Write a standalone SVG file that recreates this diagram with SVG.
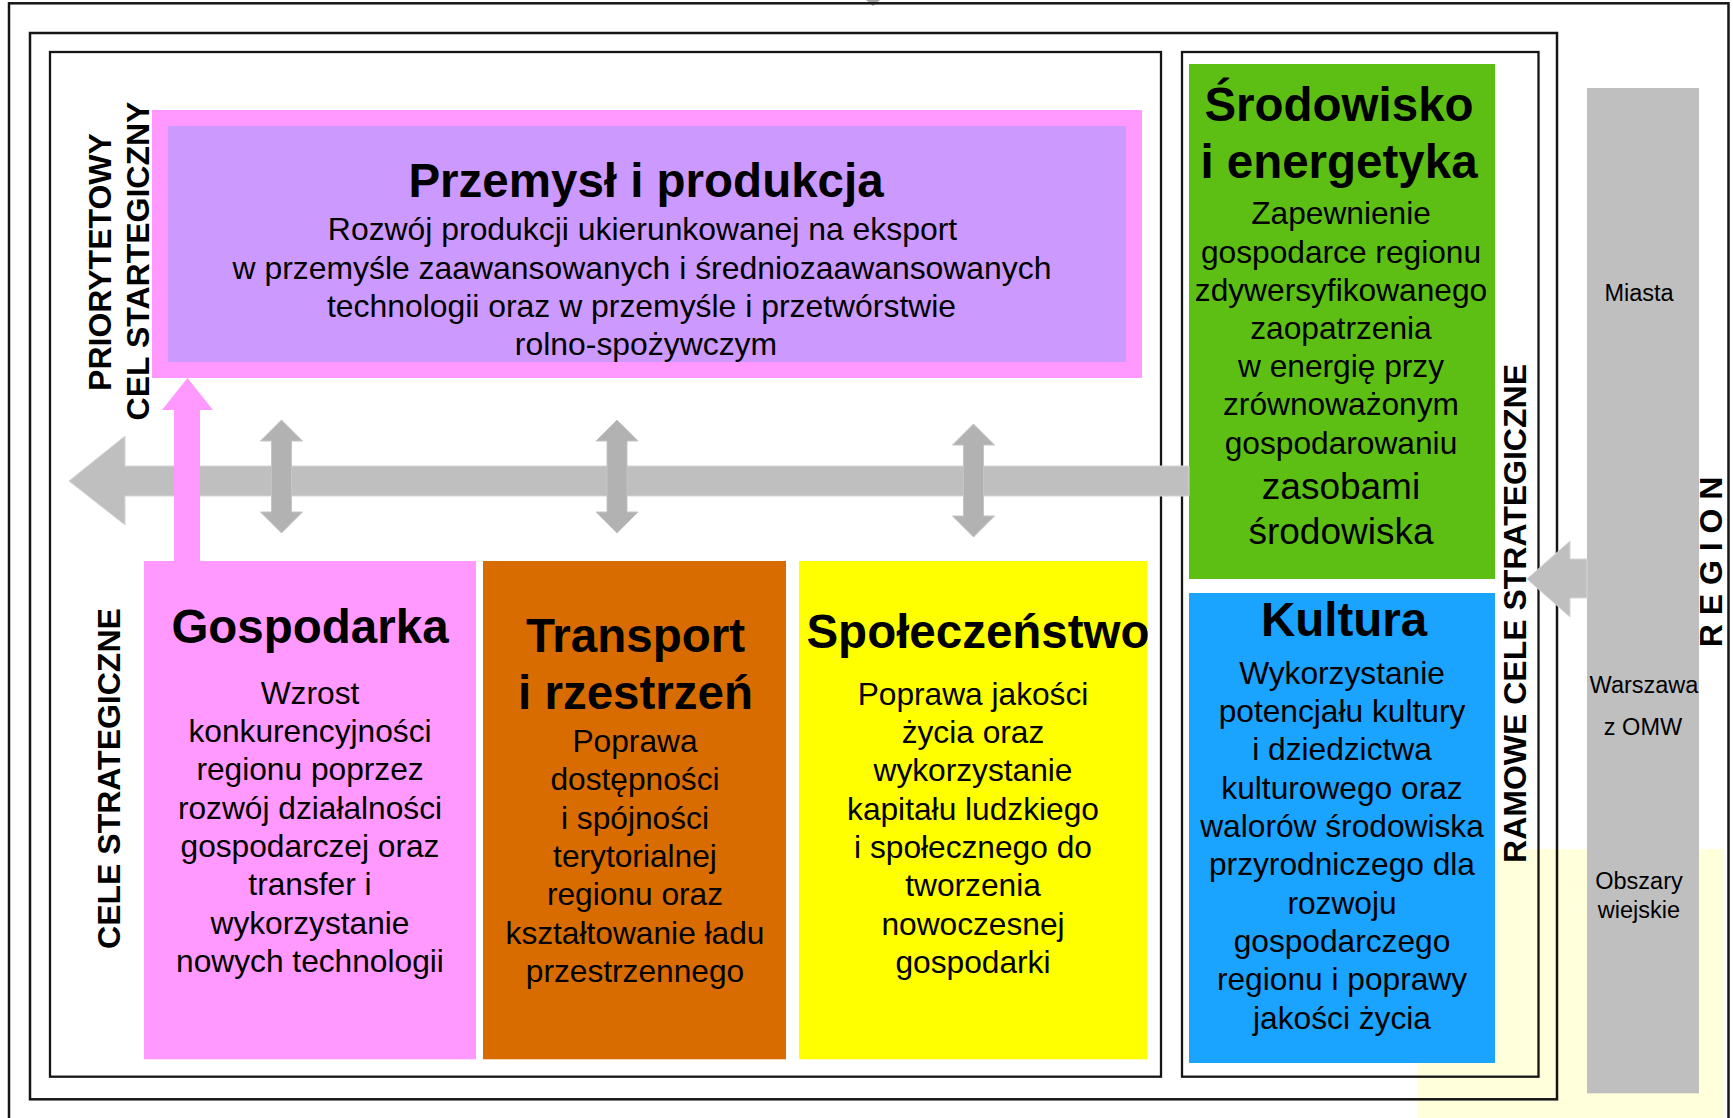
<svg xmlns="http://www.w3.org/2000/svg" width="1733" height="1118" viewBox="0 0 1733 1118">
<style>
text{font-family:"Liberation Sans",Arial,sans-serif;fill:#000;text-anchor:middle}
.t{font-size:47.5px;font-weight:bold}
.b{font-size:31.7px}
.bp{font-size:31.9px}
.bb{font-size:37px}
.v{font-size:32px;font-weight:bold}
.g{font-size:23.5px}
.frame{fill:none;stroke:#151515;stroke-width:2.5}
.frame2{fill:none;stroke:#151515;stroke-width:2.3}
.bar{fill:#bfbfbf;stroke:#d6d6d6;stroke-width:1}
.dbl{fill:#b2b2b2;stroke:#c4c4c4;stroke-width:1}
</style>
<rect x="0" y="0" width="1733" height="1118" fill="#ffffff"/>
<rect x="1417" y="849" width="306.5" height="269" fill="#ffffdb"/>
<polygon points="866,0 880,0 873,6" fill="#a6a6a6"/>
<g id="frames">
<rect class="frame" x="9" y="3.3" width="1719.5" height="1130"/>
<rect class="frame" x="30" y="33" width="1527" height="1066.3"/>
<rect class="frame2" x="50" y="52" width="1111" height="1024.7"/>
<rect class="frame2" x="1182" y="52" width="356.5" height="1024.7"/>
</g>
<g id="region-column">
<rect x="1587" y="88" width="112" height="1005.3" fill="#bfbfbf"/>
<text class="g" x="1639" y="301">Miasta</text>
<text class="g" x="1644" y="692.5">Warszawa</text>
<text class="g" x="1643" y="735">z OMW</text>
<text class="g" x="1639" y="889">Obszary</text>
<text class="g" x="1639" y="918">wiejskie</text>
<text class="v" transform="translate(1721.5,562) rotate(-90)">R E G I O N</text>
</g>
<g id="label-priorytetowy">
<text class="v" transform="translate(111,262) rotate(-90)">PRIORYTETOWY</text>
<text class="v" transform="translate(149,261) rotate(-90)">CEL STARTEGICZNY</text>
</g>
<g id="label-cele">
<text class="v" transform="translate(119.5,778.5) rotate(-90)">CELE STRATEGICZNE</text>
</g>
<g id="label-ramowe">
<text class="v" transform="translate(1526,613.5) rotate(-90)">RAMOWE CELE STRATEGICZNE</text>
</g>
<g id="przemysl">
<rect x="152" y="110" width="990" height="268" fill="#ff99ff"/>
<rect x="168" y="126" width="958" height="236" fill="#cc99ff"/>
<text class="t" x="646" y="197">Przemysł i produkcja</text>
<text class="bp" x="642.5" y="240">Rozwój produkcji ukierunkowanej na eksport</text>
<text class="bp" x="642" y="278.5">w przemyśle zaawansowanych i średniozaawansowanych</text>
<text class="bp" x="641.5" y="317">technologii oraz w przemyśle i przetwórstwie</text>
<text class="bp" x="646" y="355">rolno-spożywczym</text>
</g>
<g id="gospodarka">
<rect x="144" y="561" width="332" height="498.3" fill="#ff99ff"/>
<text class="t" x="310" y="642.5">Gospodarka</text>
<text class="b" x="310" y="703.5">Wzrost</text>
<text class="b" x="310" y="742">konkurencyjności</text>
<text class="b" x="310" y="780.3">regionu poprzez</text>
<text class="b" x="310" y="818.7">rozwój działalności</text>
<text class="b" x="310" y="857">gospodarczej oraz</text>
<text class="b" x="310" y="895.3">transfer i</text>
<text class="b" x="310" y="933.7">wykorzystanie</text>
<text class="b" x="310" y="972">nowych technologii</text>
</g>
<g id="transport">
<rect x="483" y="561" width="303" height="498.3" fill="#d96c00"/>
<text class="t" x="635.5" y="651.5">Transport</text>
<text class="t" x="635.5" y="709">i rzestrzeń</text>
<text class="b" x="635" y="752">Poprawa</text>
<text class="b" x="635" y="790.3">dostępności</text>
<text class="b" x="635" y="828.7">i spójności</text>
<text class="b" x="635" y="867">terytorialnej</text>
<text class="b" x="635" y="905.3">regionu oraz</text>
<text class="b" x="635" y="943.7">kształtowanie ładu</text>
<text class="b" x="635" y="982">przestrzennego</text>
</g>
<g id="spoleczenstwo">
<rect x="799" y="561" width="348" height="498.3" fill="#ffff00"/>
<text class="t" x="978" y="648">Społeczeństwo</text>
<text class="b" x="973" y="704.5">Poprawa jakości</text>
<text class="b" x="973" y="743">życia oraz</text>
<text class="b" x="973" y="781.3">wykorzystanie</text>
<text class="b" x="973" y="819.7">kapitału ludzkiego</text>
<text class="b" x="973" y="858">i społecznego do</text>
<text class="b" x="973" y="896.3">tworzenia</text>
<text class="b" x="973" y="934.7">nowoczesnej</text>
<text class="b" x="973" y="973">gospodarki</text>
</g>
<g id="srodowisko">
<rect x="1189" y="64" width="306" height="515" fill="#5dbf13"/>
<text class="t" x="1339" y="120.5">Środowisko</text>
<text class="t" x="1339" y="177.5">i energetyka</text>
<text class="b" x="1341" y="223.5">Zapewnienie</text>
<text class="b" x="1341" y="262.5">gospodarce regionu</text>
<text class="b" x="1341" y="301">zdywersyfikowanego</text>
<text class="b" x="1341" y="338.5">zaopatrzenia</text>
<text class="b" x="1341" y="377">w energię przy</text>
<text class="b" x="1341" y="415.3">zrównoważonym</text>
<text class="b" x="1341" y="453.7">gospodarowaniu</text>
<text class="bb" x="1341" y="498.5">zasobami</text>
<text class="bb" x="1341" y="543.5">środowiska</text>
</g>
<g id="kultura">
<rect x="1189" y="593" width="306" height="470" fill="#1aa3ff"/>
<text class="t" x="1344" y="636">Kultura</text>
<text class="b" x="1342" y="683.5">Wykorzystanie</text>
<text class="b" x="1342" y="722">potencjału kultury</text>
<text class="b" x="1342" y="760.3">i dziedzictwa</text>
<text class="b" x="1342" y="798.7">kulturowego oraz</text>
<text class="b" x="1342" y="837">walorów środowiska</text>
<text class="b" x="1342" y="875.3">przyrodniczego dla</text>
<text class="b" x="1342" y="913.7">rozwoju</text>
<text class="b" x="1342" y="952">gospodarczego</text>
<text class="b" x="1342" y="990.3">regionu i poprawy</text>
<text class="b" x="1342" y="1028.7">jakości życia</text>
</g>
<g id="connectors">
<polygon class="bar" points="69,481 125,436 125,466 1189,466 1189,496 125,496 125,525"/>
<polygon class="bar" points="1527,579 1570,541 1570,559 1587,559 1587,598 1570,598 1570,617"/>
<polygon points="187.5,378 213,410 200,410 200,561 174,561 174,410 162,410" fill="#ff99ff"/>
<polygon class="dbl" points="281.5,420 302.5,441 291.5,441 291.5,512 302.5,512 281.5,533 260.5,512 271.5,512 271.5,441 260.5,441"/>
<polygon class="dbl" points="617,420 638,441 627,441 627,512 638,512 617,533 596,512 607,512 607,441 596,441"/>
<polygon class="dbl" points="973.5,424 994.5,445 983.5,445 983.5,516 994.5,516 973.5,537 952.5,516 963.5,516 963.5,445 952.5,445"/>
</g>
</svg>
